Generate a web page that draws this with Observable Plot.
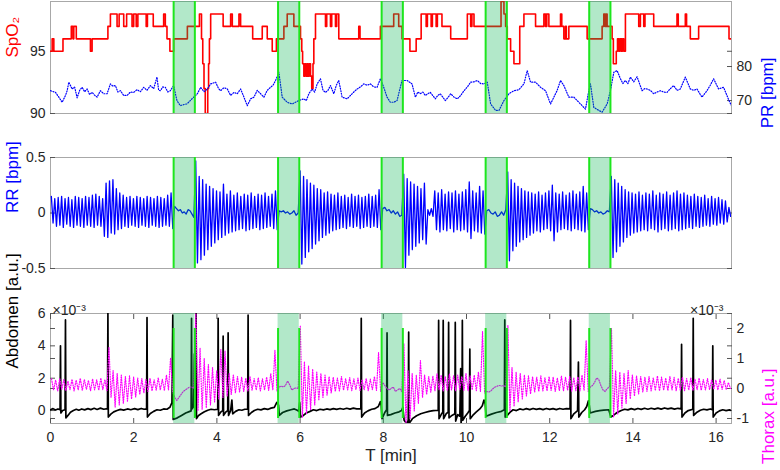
<!DOCTYPE html>
<html><head><meta charset="utf-8">
<script src="https://cdn.jsdelivr.net/npm/d3@7"></script>
<script src="https://cdn.jsdelivr.net/npm/@observablehq/plot@0.6"></script>
<style>
body{margin:0;background:#fff;}
#chart{position:relative;width:780px;height:470px;}
#chart svg{position:absolute;left:0;overflow:visible;}
</style></head><body><div id="chart"></div>
<script>
// ---------------- DATA ----------------
const bandStart = [2.96, 5.47, 7.96, 10.46, 12.95];
const bandEnd   = [3.47, 5.98, 8.47, 10.97, 13.46];
const xTicks = [0, 2, 4, 6, 8, 10, 12, 14, 16];
const spoTicks = [90, 95];
const prTicks = [70, 80];
const rrTicks = [-0.5, 0, 0.5];
const abdTicks = [0, 2, 4, 6];
const thxTicks = [-1, 0, 1, 2];

// SpO2 steps [t min, %]
const spoPoints = [[0,95],[0.04,96],[0.08,95],[0.30,96],[0.50,97],[0.54,96],[0.56,97],[0.62,96],[0.96,95],[1.00,96],[1.38,97],[1.44,98],[1.60,97],[1.65,98],[1.76,97],[1.83,98],[1.96,97],[2.00,98],[2.06,97],[2.10,98],[2.30,97],[2.33,98],[2.47,97],[2.72,98],[2.76,97],[2.80,96],[2.87,95],[2.96,96],[3.29,97],[3.58,98],[3.63,96],[3.66,94],[3.69,92],[3.72,90],[3.78,92],[3.80,94],[3.82,96],[3.85,98],[4.15,97],[4.33,98],[4.37,97],[4.53,98],[4.57,97],[4.86,96],[5.09,97],[5.21,96],[5.33,95],[5.43,96],[5.61,97],[5.69,98],[5.85,97],[6.01,96],[6.04,95],[6.06,94],[6.09,93],[6.11,94],[6.14,93],[6.17,94],[6.19,93],[6.22,94],[6.25,93],[6.28,92],[6.31,94],[6.33,96],[6.37,98],[6.61,97],[6.64,98],[6.73,97],[6.76,98],[6.85,97],[6.88,98],[6.93,96],[7.41,97],[7.44,96],[7.93,97],[8.25,98],[8.37,97],[8.45,96],[8.64,95],[8.79,96],[8.91,98],[9.03,97],[9.06,98],[9.15,97],[9.18,98],[9.27,97],[9.30,98],[9.41,97],[9.62,96],[10.02,98],[10.10,97],[10.13,98],[10.18,97],[10.83,99],[10.90,98],[10.94,97],[10.98,96],[11.06,95],[11.14,94],[11.28,97],[11.38,98],[11.66,97],[11.86,98],[11.90,97],[11.93,98],[11.98,97],[12.26,98],[12.29,97],[12.34,96],[12.38,97],[12.40,96],[12.46,97],[12.90,96],[13.26,97],[13.30,98],[13.33,97],[13.36,98],[13.38,97],[13.50,96],[13.53,94],[13.60,95],[13.63,96],[13.66,95],[13.69,96],[13.72,95],[13.75,96],[13.78,95],[13.82,98],[14.14,97],[14.18,98],[14.26,97],[14.29,98],[14.50,97],[15.06,98],[15.09,97],[15.26,98],[15.29,97],[15.38,96],[15.58,97],[16.31,96],[16.37,96]];

// PR [t min, bpm]
const prPoints = [[0,72.9],[0.12,72.4],[0.2,71],[0.28,69.5],[0.36,71.5],[0.40,72.9],[0.44,75.4],[0.52,73.4],[0.58,74.0],[0.64,70.8],[0.70,73.0],[0.76,73.9],[0.82,72.6],[0.88,73.4],[0.94,71.8],[1.00,72.4],[1.06,71.6],[1.12,71.0],[1.20,72.9],[1.28,72.0],[1.36,72.0],[1.44,74.9],[1.50,74.2],[1.56,74.4],[1.62,72.5],[1.68,72.9],[1.76,71.5],[1.84,71.5],[1.92,72.5],[2.00,72.4],[2.08,73.2],[2.16,72.6],[2.24,73.9],[2.32,73.0],[2.40,74.4],[2.48,73.5],[2.56,76.9],[2.60,73.0],[2.64,72.9],[2.70,74.0],[2.76,73.9],[2.82,72.5],[2.88,72.9],[2.96,74.4],[3.04,70.0],[3.12,68.5],[3.20,68.8],[3.28,69.0],[3.40,70.5],[3.53,72.0],[3.61,73.9],[3.69,72.6],[3.77,73.4],[3.85,74.9],[3.97,75.4],[4.04,73.5],[4.09,72.9],[4.17,73.8],[4.25,73.4],[4.33,71.5],[4.41,72.4],[4.49,72.0],[4.57,73.4],[4.65,71.0],[4.73,68.5],[4.81,70.5],[4.89,71.0],[4.97,73.0],[5.05,72.0],[5.13,71.0],[5.21,73.0],[5.29,73.9],[5.35,74.5],[5.41,75.9],[5.49,78.3],[5.57,71.0],[5.69,69.5],[5.81,69.0],[5.97,70.0],[6.09,70.5],[6.15,70.0],[6.21,72.0],[6.29,73.4],[6.35,72.5],[6.41,74.9],[6.49,76.4],[6.55,73.0],[6.61,72.4],[6.67,73.0],[6.73,74.4],[6.81,72.0],[6.87,74.5],[6.93,75.9],[7.01,71.0],[7.13,70.5],[7.21,71.5],[7.29,72.5],[7.37,73.4],[7.45,74.0],[7.53,74.9],[7.61,74.5],[7.69,74.9],[7.77,74.0],[7.85,73.9],[7.93,76.4],[8.01,73.9],[8.09,71.0],[8.17,69.5],[8.25,69.5],[8.33,70.0],[8.45,75.9],[8.57,75.9],[8.69,74.9],[8.77,71.0],[8.83,72.5],[8.89,72.0],[8.95,72.5],[9.01,71.5],[9.07,72.0],[9.13,72.4],[9.19,71.5],[9.25,70.5],[9.31,71.5],[9.37,72.0],[9.43,71.0],[9.49,70.0],[9.56,71.0],[9.62,72.0],[9.70,71.0],[9.78,70.5],[9.86,71.5],[9.94,72.9],[10.02,74.0],[10.10,75.4],[10.18,75.5],[10.26,75.9],[10.34,75.0],[10.42,74.9],[10.50,75.4],[10.58,69.0],[10.70,67.1],[10.78,67.1],[10.90,70.0],[11.02,72.0],[11.14,72.9],[11.26,73.2],[11.38,74.9],[11.46,78.8],[11.54,75.4],[11.66,75.4],[11.78,73.9],[11.90,72.9],[12.02,69.0],[12.10,71.0],[12.18,73.0],[12.26,75.9],[12.34,74.4],[12.46,71.0],[12.58,71.0],[12.66,70.0],[12.74,69.0],[12.86,67.5],[12.94,72.9],[12.98,74.9],[13.06,68.0],[13.18,67.1],[13.26,66.6],[13.38,69.0],[13.46,72.9],[13.54,78.3],[13.62,78.8],[13.70,76.4],[13.76,75.0],[13.82,75.9],[13.88,75.0],[13.94,76.9],[14.02,75.5],[14.10,77.0],[14.22,72.9],[14.28,73.5],[14.34,73.4],[14.42,73.0],[14.50,72.0],[14.58,72.5],[14.66,72.9],[14.74,72.5],[14.82,72.4],[14.90,73.5],[14.98,74.4],[15.06,73.0],[15.14,73.4],[15.26,76.9],[15.38,73.4],[15.46,73.0],[15.54,73.4],[15.66,71.0],[15.78,72.9],[15.86,74.5],[15.94,76.4],[16.06,73.4],[16.18,73.9],[16.26,71.5],[16.31,70.0],[16.37,68.5]];

// RR: segments (alternating peak / trough in breathing stretches, slow wiggle inside bands)
const segStart = [0, 2.96, 3.47, 5.47, 5.98, 7.96, 8.47, 10.46, 10.97, 12.95, 13.46];
const segEnd   = [2.96, 3.47, 5.47, 5.98, 7.96, 8.47, 10.46, 10.97, 12.95, 13.46, 16.37];
const rrA = [0.15,-0.09,0.13,-0.12,0.14,-0.11,0.15,-0.13,0.13,-0.10,0.14,-0.12,0.12,-0.13,0.15,-0.11,0.14,-0.12,0.13,-0.13,0.15,-0.11,0.14,-0.12,0.16,-0.13,0.17,-0.11,0.15,-0.12,0.13,-0.21,0.27,-0.22,0.29,-0.18,0.30,-0.19,0.22,-0.15,0.18,-0.14,0.16,-0.12,0.14,-0.13,0.15,-0.11,0.13,-0.12,0.15,-0.13,0.14,-0.11,0.13,-0.12,0.15,-0.13,0.14,-0.11,0.13,-0.12,0.15,-0.13,0.14,-0.12,0.13,-0.11,0.16,-0.12,0.18,-0.14];
const rrBand1 = [0.06,0.04,0.02,0.03,0.00,0.01,-0.01,0.03,0.02,-0.01,-0.04];
const rrB = [0.47,-0.45,0.33,-0.42,0.30,-0.38,0.26,-0.33,0.24,-0.30,0.22,-0.27,0.20,-0.24,0.19,-0.22,0.26,-0.20,0.17,-0.18,0.20,-0.17,0.16,-0.16,0.18,-0.15,0.15,-0.14,0.17,-0.16,0.16,-0.15,0.18,-0.14,0.15,-0.13,0.17,-0.15,0.16,-0.14,0.18,-0.13,0.15,-0.12,0.17,-0.14,0.20,-0.15];
const rrBand2 = [0.02,0.01,0.02,0.00,0.01,-0.01,0.00,0.02,-0.02,0.00];
const rrC = [0.38,-0.46,0.33,-0.40,0.30,-0.35,0.27,-0.32,0.25,-0.28,0.22,-0.25,0.21,-0.22,0.18,-0.20,0.19,-0.18,0.17,-0.16,0.16,-0.15,0.18,-0.14,0.15,-0.13,0.16,-0.14,0.14,-0.12,0.17,-0.13,0.15,-0.12,0.16,-0.14,0.14,-0.13,0.15,-0.12,0.17,-0.13,0.15,-0.12,0.16,-0.13,0.21,-0.15];
const rrBand3 = [0.04,0.05,0.02,0.03,0.00,0.02,-0.01,0.01,-0.03,-0.02];
const rrD = [0.35,-0.49,0.31,-0.38,0.28,-0.33,0.26,-0.30,0.24,-0.27,0.22,-0.24,0.27,-0.28,0.03,-0.02,0.04,-0.03,0.20,-0.15,0.18,-0.17,0.21,-0.15,0.17,-0.16,0.19,-0.14,0.18,-0.17,0.20,-0.15,0.17,-0.16,0.19,-0.15,0.21,-0.17,0.28,-0.23,0.20,-0.16,0.18,-0.17,0.24,-0.18,0.20,-0.19];
const rrBand4 = [0.02,0.03,0.00,-0.01,0.01,-0.03,-0.02,0.01,-0.02,0.03];
const rrE = [0.37,-0.43,0.30,-0.34,0.27,-0.30,0.24,-0.26,0.22,-0.24,0.20,-0.22,0.19,-0.20,0.18,-0.18,0.17,-0.16,0.19,-0.17,0.16,-0.15,0.18,-0.14,0.20,-0.16,0.25,-0.25,0.18,-0.17,0.17,-0.15,0.19,-0.14,0.16,-0.15,0.18,-0.16,0.20,-0.14,0.17,-0.15,0.19,-0.16,0.24,-0.17,0.18,-0.15];
const rrBand5 = [0.04,0.03,0.01,0.02,0.00,0.01,-0.01,0.00,0.02,0.01];
const rrF = [0.33,-0.40,0.30,-0.35,0.27,-0.30,0.24,-0.26,0.21,-0.22,0.19,-0.20,0.18,-0.18,0.17,-0.17,0.19,-0.16,0.16,-0.15,0.18,-0.16,0.17,-0.14,0.20,-0.15,0.16,-0.17,0.18,-0.15,0.17,-0.14,0.19,-0.16,0.16,-0.15,0.18,-0.14,0.20,-0.16,0.17,-0.15,0.18,-0.14,0.16,-0.13,0.15,-0.14,0.17,-0.12,0.15,-0.13,0.14,-0.12,0.16,-0.11,0.13,-0.12,0.15,-0.10,0.13,-0.11,0.14,-0.09,0.12,-0.10,0.11,-0.08,0.05,-0.03];

// Abdomen [t min, x1e-3 a.u.]
const abdPoints = [[0.00,0.05],[0.06,0.12],[0.12,0.03],[0.18,0.10],[0.23,0.05],[0.24,4.0],[0.25,-0.15],[0.29,0.0],[0.35,0.05],[0.36,5.6],[0.37,-0.45],[0.42,-0.3],[0.48,-0.1],[0.55,0.0],[0.62,0.08],[0.68,0.02],[0.75,0.1],[0.82,0.04],[0.9,0.12],[0.97,0.06],[1.05,0.14],[1.12,0.07],[1.2,0.15],[1.28,0.08],[1.37,0.12],[1.38,6.0],[1.39,-0.4],[1.45,-0.22],[1.52,-0.08],[1.6,0.0],[1.68,0.07],[1.76,0.03],[1.85,0.1],[1.93,0.05],[2.02,0.12],[2.1,0.06],[2.18,0.13],[2.25,0.08],[2.31,0.1],[2.32,5.75],[2.33,-0.4],[2.4,-0.18],[2.48,-0.05],[2.56,0.05],[2.64,0.02],[2.72,0.1],[2.8,0.08],[2.87,0.2],[2.92,0.5],[2.94,5.9],[2.95,-0.55],[3.05,-0.45],[3.15,-0.3],[3.25,-0.15],[3.35,-0.05],[3.38,-0.02],[3.39,5.7],[3.40,0.1],[3.44,0.25],[3.46,3.5],[3.47,-0.35],[3.49,0.2],[3.50,6.0],[3.51,-0.5],[3.56,-0.3],[3.62,-0.2],[3.7,-0.08],[3.78,0.02],[3.86,0.08],[3.94,0.05],[4.02,0.08],[4.03,5.7],[4.04,-0.3],[4.09,-0.1],[4.14,0.0],[4.15,4.6],[4.16,-0.3],[4.21,-0.1],[4.26,0.0],[4.27,4.8],[4.28,-0.3],[4.33,0.0],[4.36,0.65],[4.38,-0.2],[4.45,-0.05],[4.53,0.05],[4.6,0.02],[4.67,0.08],[4.74,0.08],[4.75,5.9],[4.76,-0.3],[4.83,-0.12],[4.9,0.0],[4.98,0.08],[5.06,0.04],[5.14,0.12],[5.22,0.07],[5.3,0.15],[5.38,0.2],[5.44,0.5],[5.48,0.35],[5.5,-0.3],[5.58,-0.12],[5.68,-0.02],[5.78,0.05],[5.86,0.1],[5.92,0.03],[5.97,-0.05],[5.99,0.5],[6.01,-0.4],[6.08,-0.3],[6.15,-0.15],[6.24,-0.05],[6.32,0.05],[6.4,0.0],[6.48,0.08],[6.56,0.04],[6.64,0.1],[6.72,0.06],[6.8,0.12],[6.88,0.07],[6.96,0.13],[7.04,0.08],[7.12,0.14],[7.2,0.09],[7.28,0.15],[7.36,0.1],[7.46,0.12],[7.47,5.7],[7.48,-0.4],[7.55,-0.15],[7.63,-0.02],[7.72,0.08],[7.8,0.12],[7.88,0.25],[7.93,0.55],[7.95,0.3],[7.97,-0.5],[8.04,-0.1],[8.08,0.05],[8.09,4.8],[8.10,-0.3],[8.18,-0.25],[8.28,-0.15],[8.38,-0.08],[8.44,0.0],[8.47,0.2],[8.50,-0.6],[8.56,-0.8],[8.6,-0.6],[8.61,4.85],[8.62,-0.8],[8.7,-0.5],[8.8,-0.32],[8.9,-0.2],[9.0,-0.12],[9.1,-0.05],[9.2,0.0],[9.32,0.02],[9.33,5.57],[9.34,-0.5],[9.4,-0.2],[9.43,-0.1],[9.44,5.57],[9.45,-0.5],[9.51,-0.2],[9.56,-0.1],[9.57,5.45],[9.58,-0.45],[9.65,-0.3],[9.72,-0.2],[9.73,5.45],[9.74,-0.65],[9.79,-0.25],[9.84,-0.35],[9.86,2.6],[9.87,-0.8],[9.89,-0.25],[9.90,5.57],[9.91,-0.6],[9.97,-0.35],[10.03,-0.15],[10.07,0.0],[10.08,3.8],[10.09,-0.5],[10.15,-0.3],[10.23,-0.1],[10.32,0.1],[10.38,0.3],[10.42,0.65],[10.45,0.4],[10.47,-0.35],[10.6,-0.22],[10.72,-0.12],[10.84,-0.05],[10.91,0.05],[10.92,5.6],[10.93,-0.4],[10.98,-0.3],[11.05,-0.1],[11.12,0.05],[11.2,0.0],[11.28,0.1],[11.36,0.05],[11.44,0.12],[11.52,0.06],[11.6,0.13],[11.68,0.07],[11.76,0.12],[11.84,0.06],[11.92,0.13],[12.0,0.07],[12.08,0.12],[12.16,0.06],[12.24,0.13],[12.32,0.08],[12.4,0.12],[12.49,0.1],[12.5,5.57],[12.51,-0.5],[12.58,-0.2],[12.67,0.0],[12.69,3.0],[12.7,-0.4],[12.77,-0.12],[12.84,0.05],[12.89,0.25],[12.93,0.6],[12.95,0.35],[12.97,-0.15],[13.1,-0.05],[13.2,0.0],[13.3,0.03],[13.42,0.05],[13.47,-0.4],[13.53,-0.3],[13.62,-0.12],[13.72,0.0],[13.8,0.08],[13.88,0.04],[13.96,0.12],[14.04,0.06],[14.12,0.13],[14.2,0.07],[14.28,0.14],[14.36,0.08],[14.44,0.14],[14.52,0.09],[14.6,0.15],[14.68,0.09],[14.76,0.16],[14.84,0.1],[14.92,0.15],[15.0,0.09],[15.08,0.14],[15.16,0.1],[15.17,4.1],[15.18,-0.4],[15.25,-0.15],[15.33,0.0],[15.44,0.08],[15.45,5.7],[15.46,-0.3],[15.54,-0.1],[15.62,0.02],[15.7,0.08],[15.78,0.04],[15.86,0.1],[15.91,0.05],[15.92,4.0],[15.93,-0.4],[16.0,-0.15],[16.08,-0.02],[16.16,0.05],[16.24,0.0],[16.32,0.04],[16.37,0.0]];

// Thorax (x1e-3 a.u.): alternating upper / lower per breath, smooth inside bands
const thA = [0.32,-0.05,0.28,-0.08,0.33,-0.03,0.30,-0.07,0.25,-0.04,0.31,-0.08,0.28,-0.05,0.34,-0.06,0.30,-0.03,0.27,-0.08,0.32,-0.05,0.29,-0.06,0.35,-0.04,0.30,-0.07,1.37,-0.30,0.60,-0.62,0.50,-0.55,0.45,-0.50,0.40,-0.42,0.42,-0.35,0.38,-0.28,0.35,-0.20,0.33,-0.15,0.30,-0.10,0.34,-0.08,0.29,-0.06,0.36,-0.05,0.31,-0.07,0.45,-0.05,1.02,-0.10];
const thBand1 = [-0.3,-0.4,-0.3,-0.2,-0.1,-0.05,0.0,0.05,0.05,0.0];
const thB = [2.5,-0.75,1.35,-0.70,1.0,-0.65,0.8,-0.55,0.7,-0.45,0.6,-0.35,1.3,-0.30,1.25,-0.25,0.5,-0.2,0.45,-0.15,0.40,-0.12,0.38,-0.10,0.35,-0.08,0.40,-0.06,0.33,-0.05,0.36,-0.08,0.32,-0.05,0.38,-0.06,0.50,-0.05,1.27,-0.10];
const thBand2 = [0.05,0.08,0.05,0.1,0.25,0.12,-0.05,0.0,0.02,0.0];
const thC = [2.1,-0.96,0.9,-0.85,0.75,-0.70,0.65,-0.55,0.55,-0.40,0.50,-0.30,0.45,-0.22,0.40,-0.15,0.38,-0.10,0.35,-0.08,0.40,-0.06,0.33,-0.05,0.36,-0.07,0.32,-0.04,0.35,-0.06,0.30,-0.05,0.33,-0.07,0.31,-0.04,0.40,-0.06,1.2,-0.1];
const thBand3 = [0.2,0.1,0.0,-0.05,0.0,0.05,-0.1,-0.05,0.0,-0.1];
const thD = [1.5,-1.17,0.6,-1.0,0.5,-0.75,0.45,-0.5,0.93,-0.3,0.45,-0.2,0.40,-0.12,0.42,-0.08,0.50,-0.05,0.45,-0.08,0.40,-0.06,0.48,-0.05,0.42,-0.07,0.45,-0.04,0.40,-0.06,0.50,-0.08,0.42,-0.05,0.45,-0.07,0.55,-0.10,1.9,-0.15];
const thBand4 = [-0.1,-0.12,-0.08,0.0,0.05,0.08,0.1,0.08,0.1,0.05];
const thE = [2.1,-0.75,0.7,-0.6,0.55,-0.45,0.5,-0.35,0.45,-0.25,0.42,-0.18,0.40,-0.12,0.38,-0.10,0.42,-0.08,0.36,-0.08,0.40,-0.06,0.38,-0.10,0.35,-0.07,0.42,-0.08,0.38,-0.06,0.40,-0.09,0.36,-0.07,0.39,-0.08,0.45,-0.06,1.6,-0.1];
const thBand5 = [0.05,0.1,0.2,0.35,0.3,0.1,-0.05,-0.1,0.0,0.05];
const thF = [2.0,-0.96,0.6,-0.85,0.55,-0.65,0.5,-0.5,0.6,-0.35,0.45,-0.25,0.42,-0.18,0.40,-0.12,0.38,-0.10,0.40,-0.08,0.36,-0.07,0.42,-0.08,0.38,-0.06,0.35,-0.07,0.40,-0.05,0.37,-0.08,0.34,-0.06,0.38,-0.07,0.33,-0.05,0.36,-0.06,0.32,-0.04,0.35,-0.06,0.30,-0.05,0.33,-0.04,0.30,-0.03,0.28,-0.05,0.31,-0.03,0.27,-0.04,0.20,0.0];

// ---------------- BUILD ----------------
function spread(starts, ends, segs) {
  const out = [];
  segs.forEach((vals, k) => {
    const s = starts[k], e = ends[k], n = vals.length;
    vals.forEach((v, i) => out.push({t: s + (i + 0.5) * (e - s) / n, v}));
  });
  return out;
}
const pairs = a => a.map(([t, v]) => ({t, v}));
const spo = pairs(spoPoints), pr = pairs(prPoints), abd = pairs(abdPoints);
const rr = spread(segStart, segEnd, [rrA, rrBand1, rrB, rrBand2, rrC, rrBand3, rrD, rrBand4, rrE, rrBand5, rrF]);
const thx = spread(segStart, segEnd, [thA, thBand1, thB, thBand2, thC, thBand3, thD, thBand4, thE, thBand5, thF]);
const bands = bandStart.map((s, i) => ({s, e: bandEnd[i]}));
const edges = bandStart.concat(bandEnd);

const FONT = "Liberation Sans, Arial, Helvetica, sans-serif";
const GREEN_FILL = "#00b34d", GREEN_LINE = "#1ee61e";
const FRAME = "#a8a8a8", TICK = "#555555", LABEL = "#262626";
const fmt = d => String(d);

function plot(top, opts, marks) {
  const svg = Plot.plot(Object.assign({
    width: 780, marginLeft: 50, marginRight: 49,
    x: {domain: [0, 16.37], axis: null},
    style: {fontFamily: FONT, fontSize: "14px", color: LABEL, background: "transparent", overflow: "visible"},
    marks
  }, opts));
  svg.style.top = top + "px";
  document.getElementById("chart").appendChild(svg);
}
const inTicksY = (ticks, anchor) => Plot.axisY(ticks, {anchor, tickSize: -5, tickFormat: () => "", stroke: TICK, label: null});
const tickLabelsY = (ticks, anchor) => Plot.axisY(ticks, {anchor, tickSize: 0, tickPadding: 5, tickFormat: fmt, fill: LABEL, label: null});
const yLabel = (txt, side, color, dx) => Plot.text([txt], {text: d => d, frameAnchor: side, dx, rotate: -90, fill: color, fontSize: 17});

// Panel 1: SpO2 (left) / PR (right)
const p1 = {height: 117, marginTop: 1, marginBottom: 4};
plot(0, Object.assign({y: {domain: [90, 99], axis: null}}, p1), [
  Plot.frame({stroke: FRAME}),
  inTicksY(spoTicks, "left"), inTicksY(spoTicks, "right"),
  tickLabelsY(spoTicks, "left"),
  Plot.line(spo, {x: "t", y: "v", curve: "step-after", stroke: "#ff0000", strokeWidth: 1.6, clip: true}),
  yLabel("SpO₂", "left", "#ff0000", -38)
]);
plot(0, Object.assign({y: {domain: [66.2, 99.1], axis: null}}, p1), [
  inTicksY(prTicks, "right"),
  tickLabelsY(prTicks, "right"),
  Plot.line(pr, {x: "t", y: "v", stroke: "#0000ff", strokeWidth: 1.2, strokeDasharray: "1 1.6", clip: true}),
  Plot.rect(bands, {x1: "s", x2: "e", fill: GREEN_FILL, fillOpacity: 0.3}),
  Plot.ruleX(edges, {stroke: GREEN_LINE, strokeWidth: 2}),
  yLabel("PR [bpm]", "right", "#0000ff", 36)
]);

// Panel 2: RR
plot(150, {height: 123, marginTop: 7, marginBottom: 5, y: {domain: [-0.5, 0.5], axis: null}}, [
  Plot.frame({stroke: FRAME}),
  inTicksY(rrTicks, "left"), inTicksY(rrTicks, "right"),
  tickLabelsY(rrTicks, "left"),
  Plot.line(rr, {x: "t", y: "v", stroke: "#0000ff", strokeWidth: 1.3, clip: true}),
  Plot.rect(bands, {x1: "s", x2: "e", fill: GREEN_FILL, fillOpacity: 0.3}),
  Plot.ruleX(edges, {stroke: GREEN_LINE, strokeWidth: 2}),
  yLabel("RR [bpm]", "left", "#0000ff", -38)
]);

// Panel 3: Abdomen (left) / Thorax (right)
const p3 = {height: 170, marginTop: 13, marginBottom: 47};
plot(300, Object.assign({y: {domain: [-0.8, 6], axis: null}}, p3), [
  Plot.frame({stroke: FRAME}),
  inTicksY(abdTicks, "left"), inTicksY(abdTicks, "right"),
  tickLabelsY(abdTicks, "left"),
  Plot.axisX(xTicks, {anchor: "bottom", tickSize: -5, tickFormat: () => "", stroke: TICK, label: null}),
  Plot.axisX(xTicks, {anchor: "top", tickSize: -5, tickFormat: () => "", stroke: TICK, label: null}),
  Plot.axisX(xTicks, {anchor: "bottom", tickSize: 0, tickPadding: 9, tickFormat: fmt, fill: LABEL, label: null}),
  Plot.text(["T [min]"], {text: d => d, frameAnchor: "bottom", dy: 37, fontSize: 17, fill: LABEL}),
  Plot.text(["×10⁻³"], {text: d => d, frameAnchor: "top-left", textAnchor: "start", dx: 2, dy: -8, fontSize: 14, fill: LABEL}),
  Plot.line(abd, {x: "t", y: "v", stroke: "#000000", strokeWidth: 1.7, clip: true}),
  yLabel("Abdomen [a.u.]", "left", "#000000", -38)
]);
plot(300, Object.assign({y: {domain: [-1.167, 2.5], axis: null}}, p3), [
  inTicksY(thxTicks, "right"), inTicksY(thxTicks, "left"),
  tickLabelsY(thxTicks, "right"),
  Plot.line(thx, {x: "t", y: "v", stroke: "#ff00ff", strokeWidth: 1.2, strokeDasharray: "1 1.5", clip: true}),
  Plot.rect(bands, {x1: "s", x2: "e", fill: GREEN_FILL, fillOpacity: 0.3}),
  Plot.ruleX(edges, {y1: 2.0, y2: -1.0, stroke: GREEN_LINE, strokeWidth: 2}),
  Plot.text(["×10⁻³"], {text: d => d, frameAnchor: "top-right", textAnchor: "end", dx: -8, dy: -8, fontSize: 14, fill: LABEL}),
  yLabel("Thorax [a.u.]", "right", "#ff00ff", 37)
]);
</script></body></html>
